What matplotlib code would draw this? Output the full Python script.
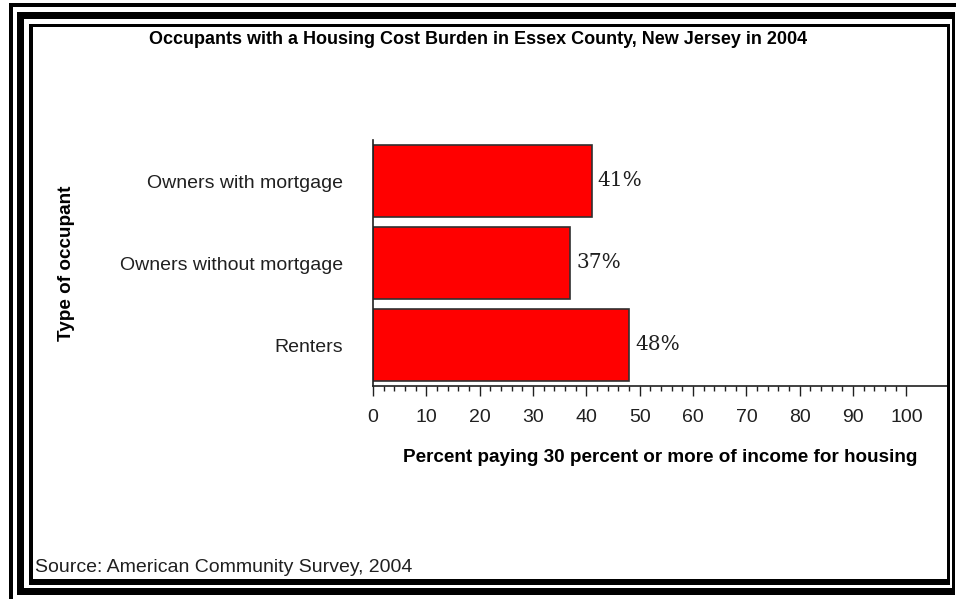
import numpy as np
import matplotlib.pyplot as plt
from matplotlib.patches import Rectangle

# Data
categories = ['Owners with mortgage', 'Owners without mortgage', 'Renters']
values = [41, 37, 48]
title = 'Occupants with a Housing Cost Burden in Essex County, New Jersey in 2004'
xlabel = 'Percent paying 30 percent or more of income for housing'
ylabel = 'Type of occupant'
source = 'Source: American Community Survey, 2004'

W, H = 956, 599
bold_font = ['Liberation Sans', 'DejaVu Sans']
sans = ['Liberation Sans', 'DejaVu Sans']

fig = plt.figure(figsize=(W / 100, H / 100), dpi=100)


def px_rect(x0, y0, x1, y1):
    # rectangle given in pixel coords (y down from top)
    fig.patches.append(Rectangle((x0 / W, 1 - y1 / H), (x1 - x0) / W, (y1 - y0) / H,
                                 transform=fig.transFigure, facecolor='black',
                                 edgecolor='none', zorder=10))


# frame: outer L, middle box, inner box
px_rect(9, 3, 956, 7)
px_rect(9, 3, 13, 599)
px_rect(17, 12, 955, 19)
px_rect(17, 12, 24, 595)
px_rect(952, 12, 955, 595)
px_rect(17, 588, 955, 595)
px_rect(29, 24, 950, 27)
px_rect(29, 24, 33, 585)
px_rect(947, 24, 950, 585)
px_rect(29, 579, 950, 585)

# axes area in pixels: left 373, right 947, top 140, bottom 386
ax = fig.add_axes([373 / W, 1 - 386 / H, (947 - 373) / W, (386 - 140) / H])

y = np.arange(len(categories))
ax.barh(y, values, height=0.88, color='#ff0000', edgecolor='#303030', linewidth=1.2)
for yi, v in zip(y, values):
    ax.text(v + 1.1, yi, f'{v}%', va='center', ha='left',
            fontfamily='DejaVu Serif', fontsize=14.5, color='#202020')

ax.set_xlim(0, 107.6)
ax.set_ylim(2.5, -0.5)
ax.set_yticks(y)
ax.set_yticklabels(categories, fontfamily=sans, fontsize=14, color='#202020')
ax.tick_params(axis='y', length=0, pad=21.5)

ax.set_xticks(np.arange(0, 101, 10))
ax.set_xticks(np.arange(0, 101, 2), minor=True)
for lab in ax.get_xticklabels():
    lab.set_fontfamily(sans)
ax.tick_params(axis='x', which='major', direction='out', length=7.2, width=1.0,
               labelsize=14, pad=9, colors='#202020')
ax.tick_params(axis='x', which='minor', direction='out', length=3.6, width=1.0,
               colors='#202020')

for s in ['top', 'right']:
    ax.spines[s].set_visible(False)
for s in ['left', 'bottom']:
    ax.spines[s].set_linewidth(1.2)
    ax.spines[s].set_color('#202020')

ax.set_xlabel(xlabel, fontfamily=bold_font, fontweight='bold', fontsize=13.6)
ax.xaxis.set_label_coords(0.5, -0.258)
ax.set_ylabel(ylabel, fontfamily=bold_font, fontweight='bold', fontsize=13.6)
ax.yaxis.set_label_coords(-0.52, 0.5)

fig.text(478 / W, 1 - 40 / H, title, ha='center', va='center',
         fontfamily=bold_font, fontweight='bold', fontsize=13)
fig.text(35 / W, 1 - 568 / H, source, ha='left', va='center',
         fontfamily=sans, fontsize=14, color='#202020')

fig.savefig('out.png', dpi=100)
